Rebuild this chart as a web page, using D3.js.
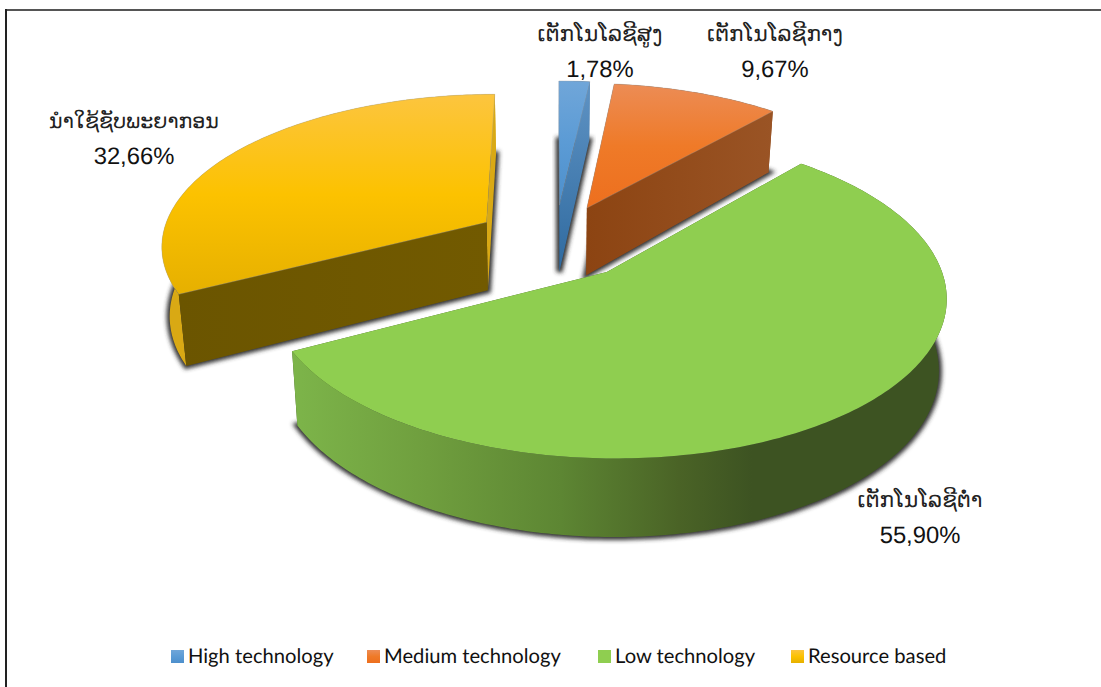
<!DOCTYPE html>
<html>
<head>
<meta charset="utf-8">
<script src="https://cdn.jsdelivr.net/npm/d3@7"></script>
<style>
  html, body { margin: 0; padding: 0; background: #fff; }
  svg { display: block; }
  text { text-rendering: geometricPrecision; }
  .lao { font-family: "DejaVu Sans", sans-serif; font-size: 21.6px; fill: #222; }
  .lao.long { font-size: 20.6px; }
  .pct { font-family: "Liberation Sans", Arial, sans-serif; font-size: 23.8px; fill: #111; }
  .legend text { font-family: "Lato", sans-serif; font-size: 20.2px; fill: #111; }
</style>
</head>
<body>
<div id="chart"></div>
<script>
// data
const categories = ["High technology", "Medium technology", "Low technology", "Resource based"];
const laoNames = ["ເຕັກໂນໂລຊີສູງ", "ເຕັກໂນໂລຊີກາງ", "ເຕັກໂນໂລຊີຕໍ່າ", "ນຳໃຊ້ຊັບພະຍາກອນ"];
const shares = [1.78, 9.67, 55.90, 32.66];
const shareLabels = ["1,78%", "9,67%", "55,90%", "32,66%"];

const width = 1101, height = 687;

// top colours (light, mid, dark) and cut face colours per slice
const topColors = [["#70a6d9", "#5b9bd5", "#4d8fcc"], ["#ec8c55", "#ef7a28", "#ed6f1e"], ["#8fce50", "#8fce50", "#8fce50"], ["#fcc53f", "#fcc200", "#e6b000"]];
const cutColors = [["#5f93c4", "#2f6a9f"], ["#8c4412", "#9a5425"], ["#3d5322", "#3d5322"], ["#6b5500", "#725a00"]];
const sliverColors = ["#3d6f9f", "#8c4412", "#79b048", "#d9a914"];

// label anchors
const labelX = [600, 775, 920, 134];
const labelY = [41, 41, 507, 128];

// perspective pie setup
const cx = 555, cy = 241.5, R = 326, tilt = 0.463, persp = 0.14, explode = 0.25;

function project(X, Z) {
	let s = 1 / (1 - persp * Z);
	return [cx + R * X * s, cy + R * tilt * Z * s];
}
function projectBottom(X, Z) {
	let p = project(X, Z);
	return [cx + (p[0] - cx) * 0.98, p[1] + 69 + 8 * Z];
}

// first slice starts right at 12 o'clock
const pie = d3.pie().sort(null).value(d => d);
const slices = pie(shares);

const line = d3.line();

function rim(d, proj) {
	let mid = (d.startAngle + d.endAngle) / 2;
	let ox = explode * Math.sin(mid), oz = -explode * Math.cos(mid);
	let n = Math.max(4, Math.ceil((d.endAngle - d.startAngle) * 60));
	let pts = d3.range(n + 1).map(i => {
		let a = d.startAngle + (d.endAngle - d.startAngle) * i / n;
		return proj(ox + Math.sin(a), oz - Math.cos(a));
	});
	return {apex: proj(ox, oz), pts: pts};
}

const svg = d3.select("#chart").append("svg")
	.attr("width", width)
	.attr("height", height);

const defs = svg.append("defs");

defs.append("filter").attr("id", "blur")
	.attr("x", "-20%").attr("y", "-20%").attr("width", "140%").attr("height", "140%")
	.append("feGaussianBlur").attr("stdDeviation", 2);

topColors.forEach((c, i) => {
	let g = defs.append("linearGradient").attr("id", "top" + i)
		.attr("x1", 0).attr("y1", 0).attr("x2", 0).attr("y2", 1);
	g.append("stop").attr("offset", "0%").attr("stop-color", c[0]);
	g.append("stop").attr("offset", "50%").attr("stop-color", c[1]);
	g.append("stop").attr("offset", "100%").attr("stop-color", c[2]);
	let k = defs.append("linearGradient").attr("id", "cut" + i)
		.attr("x1", 0).attr("y1", 0).attr("x2", i == 0 ? 0 : 1).attr("y2", i == 0 ? 1 : 0);
	k.append("stop").attr("offset", "0%").attr("stop-color", cutColors[i][0]);
	k.append("stop").attr("offset", "100%").attr("stop-color", cutColors[i][1]);
});

// horizontal shading of the green outer wall
const wallGrad = defs.append("linearGradient").attr("id", "wall")
	.attr("gradientUnits", "userSpaceOnUse")
	.attr("x1", 290).attr("y1", 0).attr("x2", 950).attr("y2", 0);
[[0, "#7db54a"], [0.21, "#6f9e3e"], [0.41, "#5d8633"], [0.59, "#4a6326"], [0.7, "#3d5322"], [1, "#3d5322"]]
	.forEach(s => wallGrad.append("stop").attr("offset", s[0]).attr("stop-color", s[1]));

// frame, only top and left sides show
svg.append("line")
	.attr("x1", 5).attr("x2", width).attr("y1", 10).attr("y2", 10)
	.attr("stroke", "#555").attr("stroke-width", 2);
svg.append("line")
	.attr("x1", 6).attr("x2", 6).attr("y1", 9).attr("y2", height)
	.attr("stroke", "#222").attr("stroke-width", 2);

const pieG = svg.append("g");

// yellow first, green last so it sits over the others
[3, 0, 1, 2].forEach(i => {
	let d = slices[i];
	let t = rim(d, project), b = rim(d, projectBottom);
	let g = pieG.append("g").attr("class", "slice");

	// shadow is the bottom face blurred
	g.append("path")
		.attr("d", line([b.apex].concat(b.pts)) + "Z")
		.attr("fill", "#333")
		.attr("stroke", "#333")
		.attr("stroke-width", 6)
		.attr("filter", "url(#blur)");

	let first = [t.apex, t.pts[0], b.pts[0], b.apex];
	let last = [t.apex, t.pts[t.pts.length - 1], b.pts[b.pts.length - 1], b.apex];
	let wall = t.pts.concat(b.pts.slice().reverse());

	// paint order depends on which faces look at the viewer
	if (i == 2) {
		g.append("path").attr("d", line(first) + "Z").attr("fill", "url(#cut2)");
		g.append("path").attr("d", line(last) + "Z").attr("fill", "url(#cut2)");
		g.append("path").attr("d", line(wall) + "Z").attr("fill", "url(#wall)");
	} else if (i == 3) {
		g.append("path").attr("d", line(wall) + "Z").attr("fill", sliverColors[3]);
		g.append("path").attr("d", line(last) + "Z").attr("fill", sliverColors[3]);
		g.append("path").attr("d", line(first) + "Z").attr("fill", "url(#cut3)");
	} else {
		g.append("path").attr("d", line(wall) + "Z").attr("fill", sliverColors[i]);
		g.append("path").attr("d", line(first) + "Z").attr("fill", "url(#cut" + i + ")");
		g.append("path").attr("d", line(last) + "Z").attr("fill", "url(#cut" + i + ")");
	}

	// top face
	g.append("path")
		.attr("d", line([t.apex].concat(t.pts)) + "Z")
		.attr("fill", "url(#top" + i + ")")
		.attr("stroke", i == 2 ? "none" : "#999")
		.attr("stroke-opacity", 0.45)
		.attr("stroke-width", 0.7);
});

// data labels
categories.forEach((c, i) => {
	svg.append("text").attr("class", i == 3 ? "lao long" : "lao")
		.attr("x", labelX[i]).attr("y", labelY[i])
		.attr("text-anchor", "middle").text(laoNames[i]);
	svg.append("text").attr("class", "pct")
		.attr("x", labelX[i]).attr("y", labelY[i] + 36)
		.attr("text-anchor", "middle").text(shareLabels[i]);
});

// legend
const legendX = d3.scaleOrdinal().domain(categories).range([171, 367, 598, 791]);
const legend = svg.append("g").attr("class", "legend");
categories.forEach((c, i) => {
	legend.append("rect")
		.attr("x", legendX(c)).attr("y", 650)
		.attr("width", 13).attr("height", 13)
		.attr("fill", "url(#top" + i + ")");
	legend.append("text")
		.attr("x", legendX(c) + 17).attr("y", 663)
		.text(c);
});
</script>
</body>
</html>
